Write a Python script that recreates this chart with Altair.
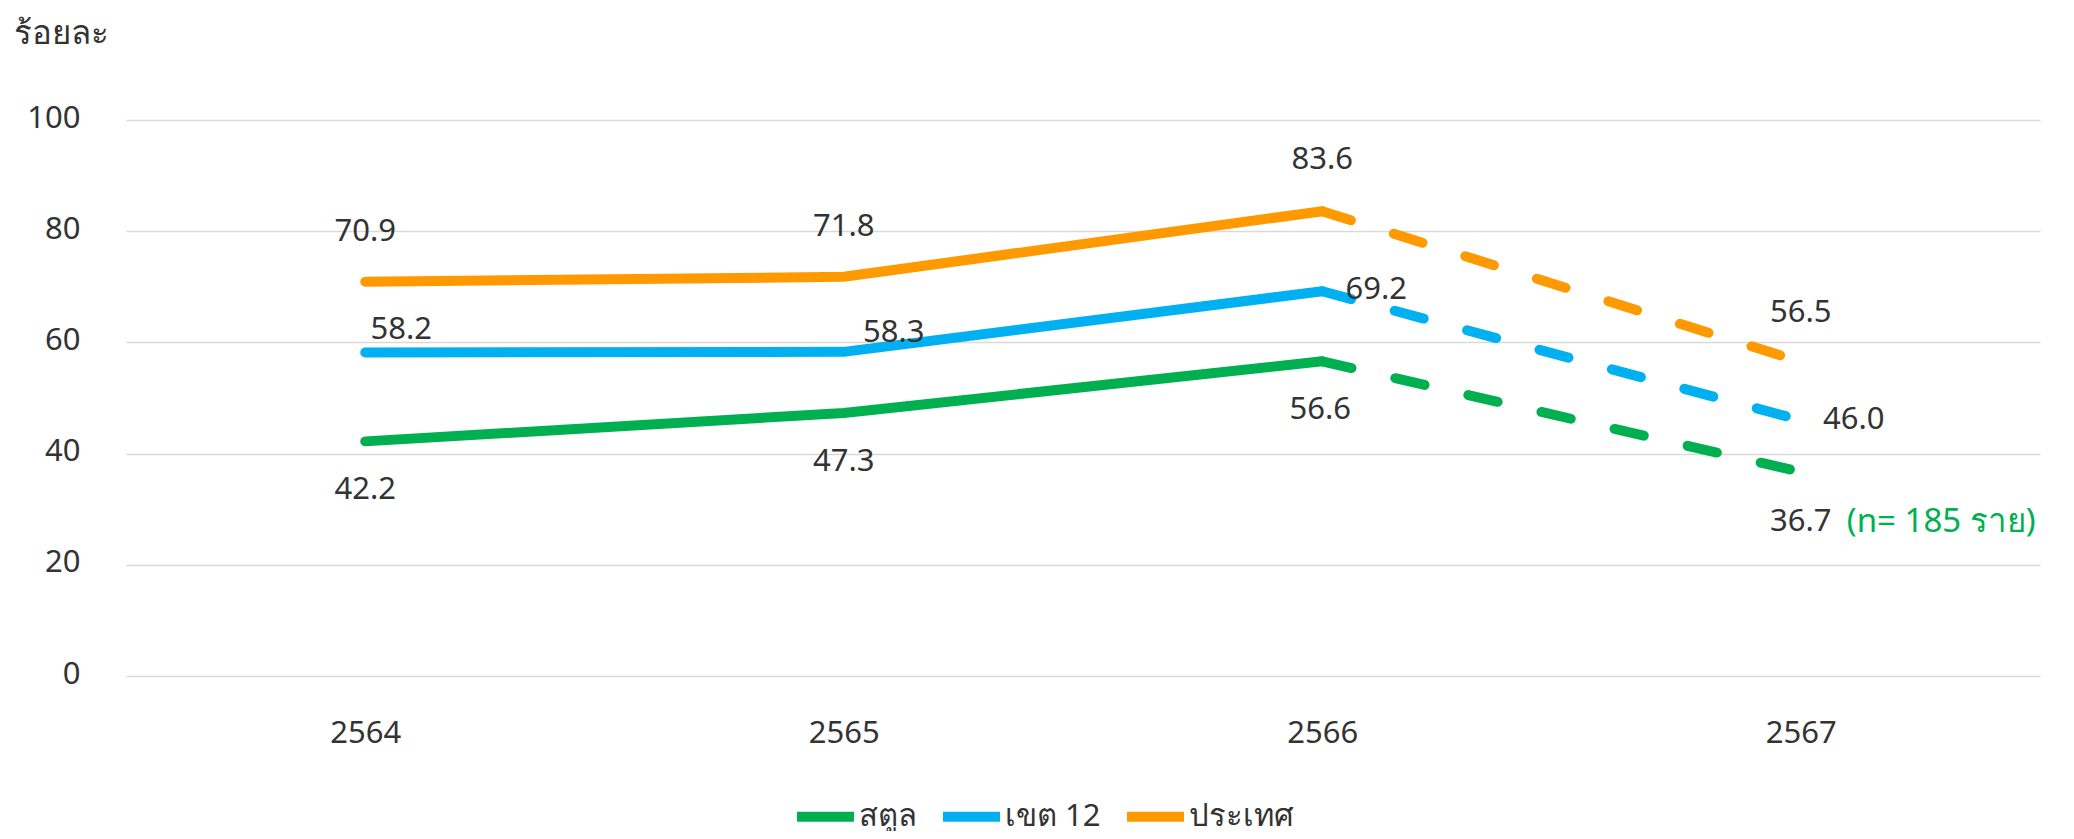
import altair as alt
import pandas as pd

# ---- data ----
years = ["2564", "2565", "2566", "2567"]
series = ["สตูล", "เขต 12", "ประเทศ"]
satun = [42.2, 47.3, 56.6, 36.7]
region12 = [58.2, 58.3, 69.2, 46.0]
country = [70.9, 71.8, 83.6, 56.5]
colors = ["#00B050", "#00B0F0", "#FF9900"]
y_title = "ร้อยละ"
note_text = "(n= 185 ราย)"
y_ticks = [0, 20, 40, 60, 80, 100]

rows = []
for name, vals in zip(series, [satun, region12, country]):
    for yr, v in zip(years, vals):
        rows.append({"year": yr, "series": name, "value": v, "label": f"{v:.1f}"})
df = pd.DataFrame(rows)

solid_df = df[df["year"].isin(years[:3])]
dash_df = df[df["year"].isin(years[2:])]

FONT = "Noto Sans"
TXT = "#333333"
FS = 31

xenc = alt.X("year:O", sort=years,
             scale=alt.Scale(type="point", padding=0.5),
             axis=alt.Axis(title=None, labelAngle=0, domain=False, ticks=False, tickSize=0,
                           labelPadding=57, labelBaseline="middle", labelFontSize=FS,
                           labelColor=TXT, labelFont=FONT, grid=False))
yenc = alt.Y("value:Q", scale=alt.Scale(domain=[0, 100], nice=False),
             axis=alt.Axis(values=y_ticks, title=y_title, titleAngle=0, titleAlign="left",
                           titleBaseline="alphabetic", titleX=-113, titleY=-77,
                           titleFontSize=33, titleFont=FONT, titleColor=TXT, titleFontWeight="normal",
                           domain=False, ticks=False, tickSize=0, labelPadding=46,
                           labelFontSize=FS, labelFont=FONT, labelColor=TXT, labelOffset=-2,
                           grid=True, gridColor="#D9D9D9", gridWidth=1.5))
color_scale = alt.Scale(domain=series, range=colors)

solid = alt.Chart(solid_df).mark_line(strokeWidth=10, strokeCap="round", strokeJoin="round").encode(
    x=xenc, y=yenc,
    color=alt.Color("series:N", scale=color_scale, sort=series,
                    legend=alt.Legend(title=None, orient="none", legendX=666, legendY=663,
                                      direction="horizontal", symbolType="stroke",
                                      symbolStrokeWidth=10, symbolSize=3249,
                                      labelFontSize=FS, labelFont=FONT, labelColor=TXT,
                                      labelOffset=0, columnPadding=6)),
    detail="series:N",
)
dashed = alt.Chart(dash_df).mark_line(strokeWidth=10, strokeCap="round", strokeDash=[30, 45]).encode(
    x=alt.X("year:O", sort=years), y="value:Q",
    color=alt.Color("series:N", scale=color_scale, legend=None),
    detail="series:N",
)

# label placement (dx, dy) in pixels per point
offsets = {
    ("ประเทศ", "2564"): (0, -50), ("ประเทศ", "2565"): (0, -50),
    ("ประเทศ", "2566"): (0, -51), ("ประเทศ", "2567"): (0, -49),
    ("เขต 12", "2564"): (36, -22), ("เขต 12", "2565"): (50, -19),
    ("เขต 12", "2566"): (54, -1), ("เขต 12", "2567"): (53, 0),
    ("สตูล", "2564"): (0, 49), ("สตูล", "2565"): (0, 49),
    ("สตูล", "2566"): (-2, 49), ("สตูล", "2567"): (0, 50),
}
base = alt.Chart(df)
layers = [solid, dashed]
for (s, yr), (dx, dy) in offsets.items():
    layers.append(
        base.transform_filter((alt.datum.series == s) & (alt.datum.year == yr))
        .mark_text(dx=dx, dy=dy, fontSize=FS, font=FONT, color=TXT, align="center", baseline="middle")
        .encode(x=alt.X("year:O", sort=years), y="value:Q", text="label:N")
    )
layers.append(
    base.transform_filter((alt.datum.series == series[0]) & (alt.datum.year == years[3]))
    .mark_text(dx=46, dy=50, fontSize=33, font=FONT, color=colors[0], align="left", baseline="middle")
    .encode(x=alt.X("year:O", sort=years), y="value:Q", text=alt.value(note_text))
)

chart = alt.layer(*layers).properties(
    width=1914, height=556,
    autosize=alt.AutoSizeParams(type="none"),
    padding={"left": 118, "top": 112, "right": 26, "bottom": 155},
).configure_view(stroke=None)

chart.save("out.html", embed_options={"renderer": "svg", "actions": False})
